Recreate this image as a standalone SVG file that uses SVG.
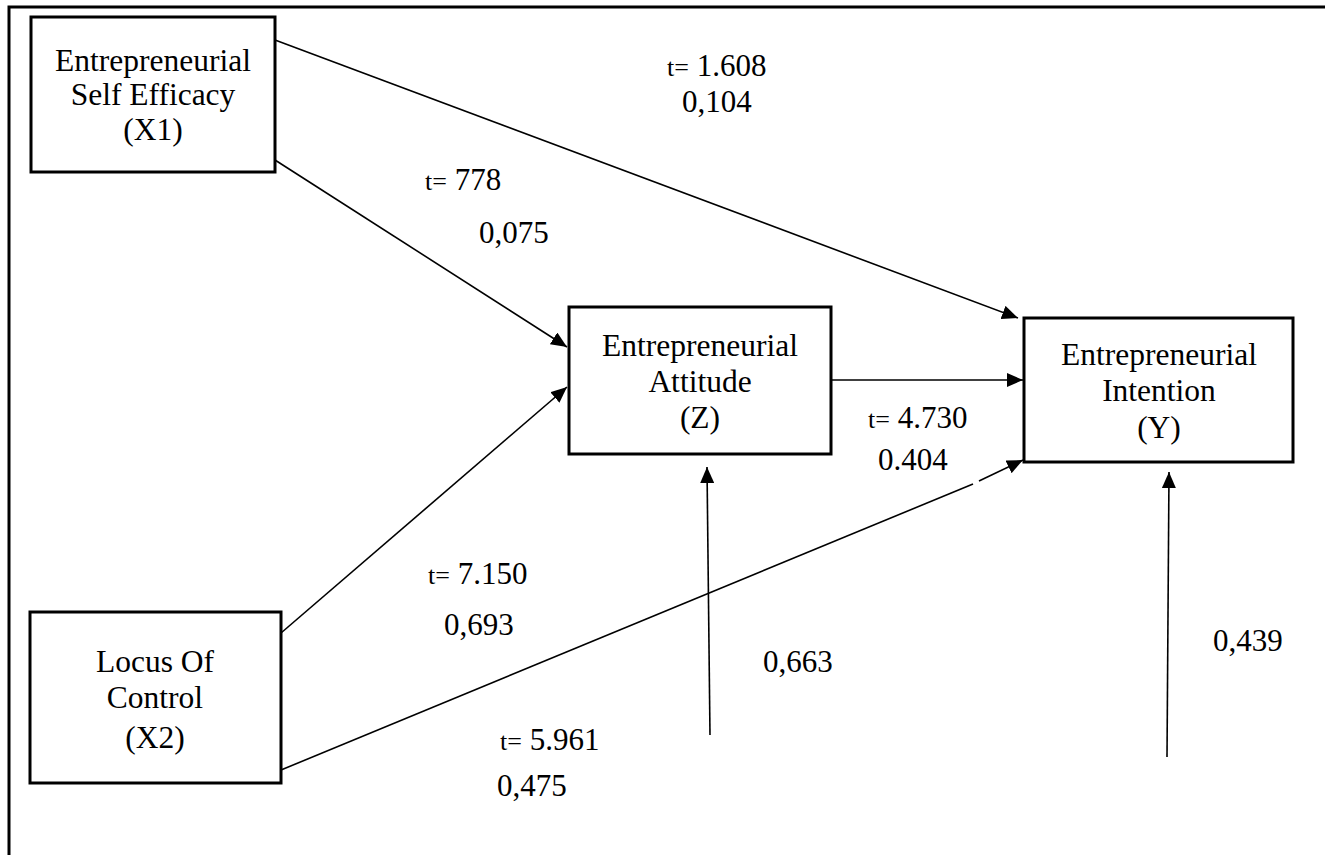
<svg xmlns="http://www.w3.org/2000/svg" width="1325" height="855" viewBox="0 0 1325 855">
<style>
  .box { fill: #fff; stroke: #000; stroke-width: 3; }
  .lbl { font-size: 31.5px; fill: #000; text-anchor: middle; }
  .num { font-size: 31px; fill: #000; }
  .t { font-size: 26px; }
  .edge { stroke: #000; stroke-width: 1.6; fill: none; }
</style>
<defs>
  <marker id="arr" viewBox="0 0 16 14" refX="16" refY="7" markerWidth="16" markerHeight="14" markerUnits="userSpaceOnUse" orient="auto">
    <path d="M0,0 L16,7 L0,14 Z" fill="#000"/>
  </marker>
</defs>
<rect width="1325" height="855" fill="#fff"/>
<g id="frame">
  <path d="M9,855 L9,7 L1325,7" fill="none" stroke="#000" stroke-width="3"/>
</g>
<g id="connectors">
  <line class="edge" x1="275" y1="40" x2="1018" y2="318" marker-end="url(#arr)"/>
  <line class="edge" x1="275" y1="160" x2="567" y2="347" marker-end="url(#arr)"/>
  <line class="edge" x1="281" y1="633" x2="567" y2="387" marker-end="url(#arr)"/>
  <line class="edge" x1="829" y1="380" x2="1023" y2="380" marker-end="url(#arr)"/>
  <line class="edge" x1="281" y1="770" x2="973" y2="484"/>
  <line class="edge" x1="979" y1="481" x2="1023" y2="460" marker-end="url(#arr)"/>
  <line class="edge" x1="710" y1="735" x2="707" y2="467" marker-end="url(#arr)"/>
  <line class="edge" x1="1167" y1="757" x2="1169" y2="472" marker-end="url(#arr)"/>
</g>
<g id="labels" font-family="'Liberation Serif', 'DejaVu Serif', serif">
  <text class="num" x="667" y="76"><tspan class="t">t=</tspan> 1.608</text>
  <text class="num" x="682" y="112">0,104</text>
  <text class="num" x="425" y="190"><tspan class="t">t=</tspan> 778</text>
  <text class="num" x="479" y="243">0,075</text>
  <text class="num" x="868" y="428"><tspan class="t">t=</tspan> 4.730</text>
  <text class="num" x="878" y="470">0.404</text>
  <text class="num" x="428" y="584"><tspan class="t">t=</tspan> 7.150</text>
  <text class="num" x="444" y="635">0,693</text>
  <text class="num" x="763" y="672">0,663</text>
  <text class="num" x="500" y="750"><tspan class="t">t=</tspan> 5.961</text>
  <text class="num" x="497" y="796">0,475</text>
  <text class="num" x="1213" y="651">0,439</text>
</g>
<g id="node-x1" font-family="'Liberation Serif', 'DejaVu Serif', serif">
  <rect class="box" x="31" y="17" width="244" height="155"/>
  <text class="lbl" x="153" y="71">Entrepreneurial</text>
  <text class="lbl" x="153" y="105">Self Efficacy</text>
  <text class="lbl" x="153" y="140">(X1)</text>
</g>
<g id="node-z" font-family="'Liberation Serif', 'DejaVu Serif', serif">
  <rect class="box" x="569" y="307" width="262" height="147"/>
  <text class="lbl" x="700" y="356">Entrepreneurial</text>
  <text class="lbl" x="700" y="392">Attitude</text>
  <text class="lbl" x="700" y="428">(Z)</text>
</g>
<g id="node-y" font-family="'Liberation Serif', 'DejaVu Serif', serif">
  <rect class="box" x="1024" y="318" width="269" height="144"/>
  <text class="lbl" x="1159" y="365">Entrepreneurial</text>
  <text class="lbl" x="1159" y="401">Intention</text>
  <text class="lbl" x="1159" y="438">(Y)</text>
</g>
<g id="node-x2" font-family="'Liberation Serif', 'DejaVu Serif', serif">
  <rect class="box" x="30" y="612" width="251" height="171"/>
  <text class="lbl" x="155" y="672">Locus Of</text>
  <text class="lbl" x="155" y="708">Control</text>
  <text class="lbl" x="155" y="748">(X2)</text>
</g>
</svg>
